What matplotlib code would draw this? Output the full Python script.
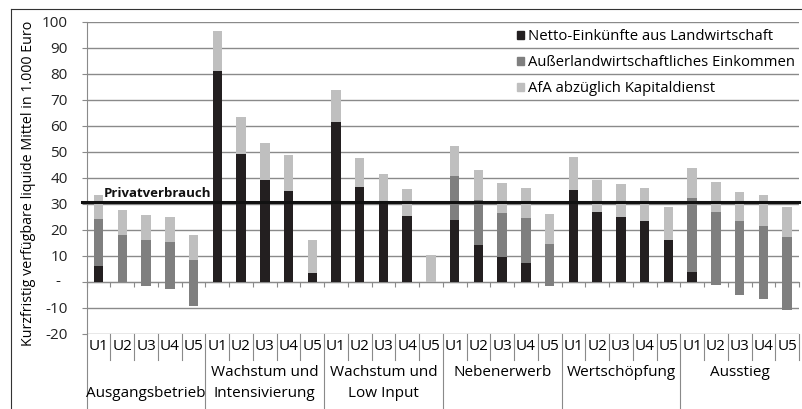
import numpy as np
import matplotlib
matplotlib.use("Agg")
import matplotlib.pyplot as plt
import matplotlib.transforms as mtransforms
from matplotlib.patches import Patch
from matplotlib.lines import Line2D
from matplotlib.ticker import FixedLocator, FuncFormatter

plt.rcParams['font.family'] = ['Open Sans', 'DejaVu Sans']

# Daten (in 1.000 Euro)
gruppen = ["\nAusgangsbetrieb", "Wachstum und\nIntensivierung", "Wachstum und\nLow Input",
           "Nebenerwerb", "Wertschöpfung", "Ausstieg"]
varianten = ["U1", "U2", "U3", "U4", "U5"]

netto = [6, 0, -1.8, -3, -9.5,
         81, 49, 39, 35, 3.3,
         61.6, 36.6, 31, 25.1, 0,
         23.6, 14.1, 9.3, 7.3, -1.8,
         35.1, 26.8, 24.7, 23.3, 15.9,
         3.6, -1.5, -5.1, -6.7, -11]
ausser = [18, 17.8, 18, 18.3, 18,
          0, 0, 0, 0, 0,
          0, 0, 0, 0, 0,
          17.1, 17.4, 17.3, 17.2, 16.4,
          0, 0, 0, 0, 0,
          28.5, 28.4, 28.3, 28.2, 28.3]
afa = [9.4, 9.6, 9.5, 9.4, 9.3,
       15.5, 14.3, 14.3, 13.8, 12.6,
       12.2, 10.9, 10.4, 10.6, 10.1,
       11.5, 11.3, 11.3, 11.4, 11.6,
       12.8, 12.4, 12.8, 12.7, 12.7,
       11.8, 11.4, 11.5, 11.7, 11.4]
privatverbrauch = 30.5

serien = ["Netto-Einkünfte aus Landwirtschaft", "Außerlandwirtschaftliches Einkommen",
          "AfA abzüglich Kapitaldienst"]
farben = ["#231f20", "#7f7f7f", "#bfbfbf"]
grid_c = "#8a8a8a"

netto = np.array(netto)
ausser = np.array(ausser)
afa = np.array(afa)
x = np.arange(len(netto))

fig = plt.figure(figsize=(8.02, 4.09), dpi=100)
ax = fig.add_axes([86.7 / 802, 1 - 333.5 / 409, (799 - 86.7) / 802, (333.5 - 22) / 409])

b = 0.4
ax.bar(x, np.clip(netto, 0, None), b, color=farben[0], zorder=3)
ax.bar(x, ausser, b, bottom=netto, color=farben[1], zorder=3)
ax.bar(x, afa, b, bottom=netto + ausser, color=farben[2], zorder=3)

ax.set_xlim(-0.5, len(x) - 0.5)
ax.set_ylim(-20, 100)
ax.yaxis.set_major_locator(FixedLocator(np.arange(-20, 101, 10)))
ax.yaxis.set_major_formatter(FuncFormatter(lambda v, p: "" if v == 0 else f"{v:.0f}"))
ax.grid(axis="y", color=grid_c, lw=1, zorder=0)
ax.tick_params(axis="y", length=3.6, width=0.8, color=grid_c, pad=10, labelsize=11, labelcolor="#222222")
# Null wird im Buchhaltungsformat als Strich gezeigt
ytrans = mtransforms.blended_transform_factory(ax.transAxes, ax.transData)
ax.text(-0.041, 0, "-", transform=ytrans, ha="center", va="center", fontsize=11, color="#222222")

ax.spines[["top", "right"]].set_visible(False)
ax.spines["left"].set_color(grid_c)
ax.spines["bottom"].set_position(("data", 0))
ax.spines["bottom"].set_color(grid_c)
ax.set_xticks(np.arange(-0.5, len(x), 1))
ax.set_xticklabels([])
ax.tick_params(axis="x", length=3.6, width=0.8, color=grid_c)

# Privatverbrauch
ax.axhline(privatverbrauch, xmin=-0.007, color="#111111", lw=2.2, zorder=4, clip_on=False)
ax.text(0.23, privatverbrauch + 0.9, "Privatverbrauch", fontsize=9.5, fontweight="bold",
        va="bottom", ha="left", color="#111111", zorder=5)

# Beschriftung der Kategorien
trans = mtransforms.blended_transform_factory(ax.transData, ax.transAxes)
for i in x:
    ax.text(i, -0.043, varianten[i % 5], transform=trans, ha="center", va="center", fontsize=11)
for k in range(len(x) + 1):
    y_end = -0.35 if (k % 5 == 0 and k < len(x)) else -0.085
    ax.plot([k - 0.5, k - 0.5], [0, y_end], transform=trans, color=grid_c, lw=0.8, clip_on=False)
for g, name in enumerate(gruppen):
    ax.text(g * 5 + 2, -0.1, name, transform=trans, ha="center", va="top", fontsize=11,
            linespacing=1.55)

ax.legend([Patch(color=c) for c in farben], serien, loc="upper left", frameon=False,
          bbox_to_anchor=(0.594, 1.0), borderpad=0, handlelength=0.45, handleheight=0.45,
          handletextpad=0.25, labelspacing=0.72, fontsize=10.7)

fig.text(29 / 802, 1 - 183 / 409, "Kurzfristig verfügbare liquide Mittel in 1.000 Euro",
         rotation=90, ha="center", va="center", fontsize=10.3)

# Rahmen
fig.add_artist(Line2D([10.5 / 802, 1], [1 - 8.5 / 409] * 2, color="#333333", lw=0.8))
fig.add_artist(Line2D([10.5 / 802] * 2, [0, 1 - 8.5 / 409], color="#333333", lw=0.8))

fig.savefig("out.png", dpi=100)
